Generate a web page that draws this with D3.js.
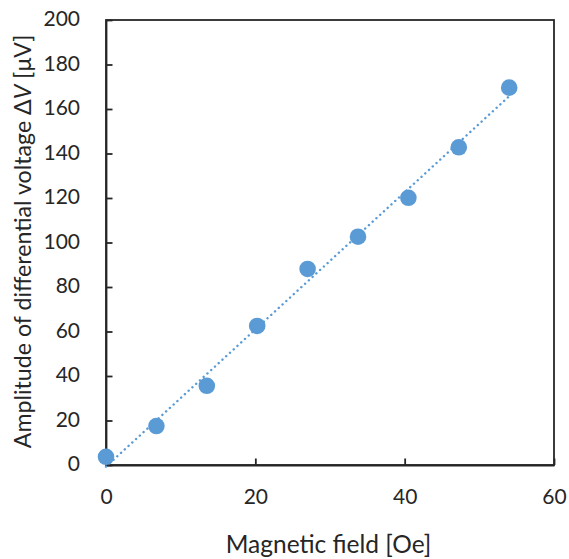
<!DOCTYPE html>
<html><head><meta charset="utf-8">
<script src="https://cdn.jsdelivr.net/npm/d3@7"></script>
<style>body{margin:0;background:#fff}text{font-family:Lato,"Open Sans",sans-serif;fill:#262626}</style>
</head><body>
<svg id="c" width="569" height="559"></svg>
<script>
const fieldOe = [0, 6.75, 13.5, 20.25, 27, 33.75, 40.5, 47.25, 54];
const deltaV = [3.7, 17.5, 35.6, 62.5, 88.1, 102.6, 120.1, 142.8, 169.6];
const xTicks = [0, 20, 40, 60];
const yTicks = [0, 20, 40, 60, 80, 100, 120, 140, 160, 180, 200];

const svg = d3.select("#c");
const L = 106, R = 554, T = 20, B = 465;
const x = d3.scaleLinear().domain([0, 60]).range([L, R]);
const y = d3.scaleLinear().domain([0, 200]).range([B, T]);
const axisColor = "#262626";

// frame
svg.append("rect").attr("x", L).attr("y", T).attr("width", R - L).attr("height", B - T)
  .attr("fill", "none").attr("stroke", axisColor).attr("stroke-width", 1.8);

// axes with inward ticks
const ya = svg.append("g").attr("transform", `translate(${L},0)`)
  .call(d3.axisLeft(y).tickValues(yTicks).tickSizeInner(-6.5).tickSizeOuter(0).tickPadding(26));
const xa = svg.append("g").attr("transform", `translate(0,${B})`)
  .call(d3.axisBottom(x).tickValues(xTicks).tickSizeInner(-6.5).tickSizeOuter(0).tickPadding(24));
[ya, xa].forEach(g => {
  g.select(".domain").attr("stroke", axisColor).attr("stroke-width", 1.8);
  g.selectAll(".tick line").attr("stroke", axisColor).attr("stroke-width", 1.8);
  g.selectAll(".tick text").attr("font-size", 21).attr("fill", "#262626")
    .style("font-family", "Lato, 'Open Sans', sans-serif");
});
ya.selectAll(".tick text").attr("dy", "0.28em");

// linear trendline from data
const n = fieldOe.length;
const mx = d3.mean(fieldOe), my = d3.mean(deltaV);
let sxy = 0, sxx = 0;
for (let i = 0; i < n; i++) { sxy += (fieldOe[i] - mx) * (deltaV[i] - my); sxx += (fieldOe[i] - mx) ** 2; }
const slope = sxy / sxx, icpt = my - slope * mx;
const x0 = d3.min(fieldOe), x1 = d3.max(fieldOe);
svg.append("line")
  .attr("x1", x(x0)).attr("y1", y(slope * x0 + icpt))
  .attr("x2", x(x1)).attr("y2", y(slope * x1 + icpt))
  .attr("stroke", "#5B9BD5").attr("stroke-width", 2.4)
  .attr("stroke-dasharray", "0.1 5").attr("stroke-linecap", "round");

// points
svg.append("g").selectAll("circle").data(fieldOe).join("circle")
  .attr("cx", d => x(d)).attr("cy", (d, i) => y(deltaV[i])).attr("r", 8.3)
  .attr("fill", "#5B9BD5");

// titles
svg.append("text").attr("x", 328.5).attr("y", 553).attr("text-anchor", "middle")
  .attr("font-size", 24.5).text("Magnetic field [Oe]");
const yt = svg.append("text").attr("transform", `translate(31,241.5) rotate(-90)`)
  .attr("text-anchor", "middle").attr("font-size", 23.2);
yt.append("tspan").text("Amplitude of differential voltage Δ");
yt.append("tspan").attr("font-style", "italic").text("V");
yt.append("tspan").text(" [μV]");
</script>
</body></html>
